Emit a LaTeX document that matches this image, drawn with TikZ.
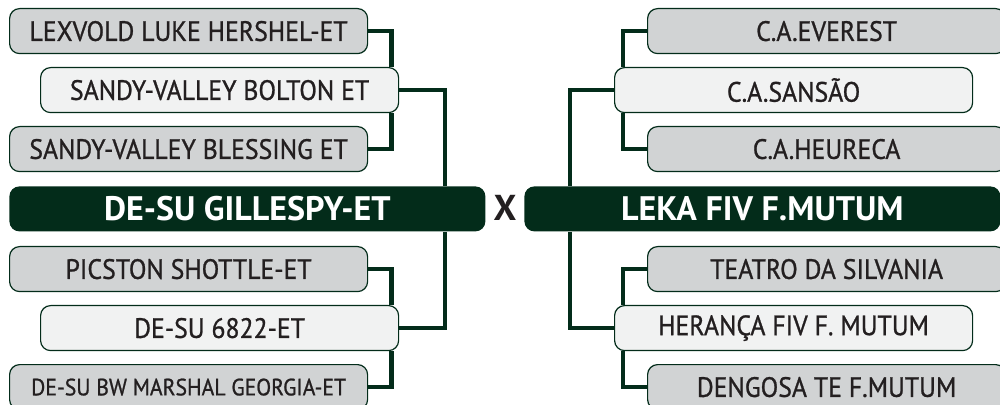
\documentclass[tikz,border=0pt]{standalone}
\usepackage{fontspec}
\setmainfont{PT Sans}
\newfontfamily\namefont[FakeStretch=0.92, FakeBold=0.9]{PT Sans}
\usetikzlibrary{positioning}
\definecolor{pinegreen}{HTML}{032C1A}
\definecolor{grandgrey}{HTML}{D1D3D4}
\definecolor{parentgrey}{HTML}{F1F2F2}
\definecolor{inkgrey}{HTML}{231F20}

\begin{document}
\begin{tikzpicture}[
    x=0.5pt, y=-0.5pt,
    grand/.style={rectangle, draw=pinegreen, fill=grandgrey, line width=0.6pt, rounded corners=5pt, minimum width=179pt, minimum height=22.5pt, inner sep=0pt, anchor=north west, text=inkgrey, font=\namefont\fontsize{14}{16}\selectfont},
    parent/.style={grand, fill=parentgrey},
    animal/.style={rectangle, fill=pinegreen, rounded corners=5pt, minimum width=238pt, minimum height=22.5pt, inner sep=0pt, anchor=north west, text=white, font=\fontsize{17}{20}\selectfont\bfseries},
    link/.style={line width=2.3pt, color=pinegreen}
]
\useasboundingbox (0,0) rectangle (1000,405);

% Sire side
\node[grand] (l1) at (9,8) {LEXVOLD LUKE HERSHEL-ET};
\node[parent] (l2) at (40,67) {SANDY-VALLEY BOLTON ET};
\node[grand] (l3) at (9,126) {SANDY-VALLEY BLESSING ET};
\node[animal] (sire) at (9,186) {DE-SU GILLESPY-ET};
\node[grand] (l4) at (9,246) {PICSTON SHOTTLE-ET};
\node[parent] (l5) at (40,305) {DE-SU 6822-ET};
\node[grand, font=\namefont\fontsize{11.8}{13}\selectfont] (l6) at (9,364) {DE-SU BW MARSHAL GEORGIA-ET};

% Cross
\node[text=inkgrey, font=\fontsize{18}{20}\selectfont\bfseries] (cross) at (505,208) {X};

% Dam side
\node[grand] (r1) at (647,8) {C.A.EVEREST};
\node[parent] (r2) at (614,67) {C.A.SANSÃO};
\node[grand] (r3) at (647,126) {C.A.HEURECA};
\node[animal] (dam) at (524,186) {LEKA FIV F.MUTUM};
\node[grand] (r4) at (647,246) {TEATRO DA SILVANIA};
\node[parent] (r5) at (614,305) {HERANÇA FIV F. MUTUM};
\node[grand] (r6) at (647,364) {DENGOSA TE F.MUTUM};

\draw[link] (l1.east) -| ([xshift=-4pt]l2.north east);
\draw[link] (l3.east) -| ([xshift=-4pt]l2.south east);
\draw[link] (l2.east) -| ([xshift=-20.5pt]sire.north east);
\draw[link] ([xshift=-20.5pt]sire.south east) |- (l5.east);
\draw[link] (l4.east) -| ([xshift=-4pt]l5.north east);
\draw[link] (l6.east) -| ([xshift=-4pt]l5.south east);

\draw[link] (r1.west) -| ([xshift=4.5pt]r2.north west);
\draw[link] (r3.west) -| ([xshift=4.5pt]r2.south west);
\draw[link] (r2.west) -| ([xshift=23pt]dam.north west);
\draw[link] ([xshift=23pt]dam.south west) |- (r5.west);
\draw[link] (r4.west) -| ([xshift=4.5pt]r5.north west);
\draw[link] (r6.west) -| ([xshift=4.5pt]r5.south west);
\end{tikzpicture}
\end{document}
